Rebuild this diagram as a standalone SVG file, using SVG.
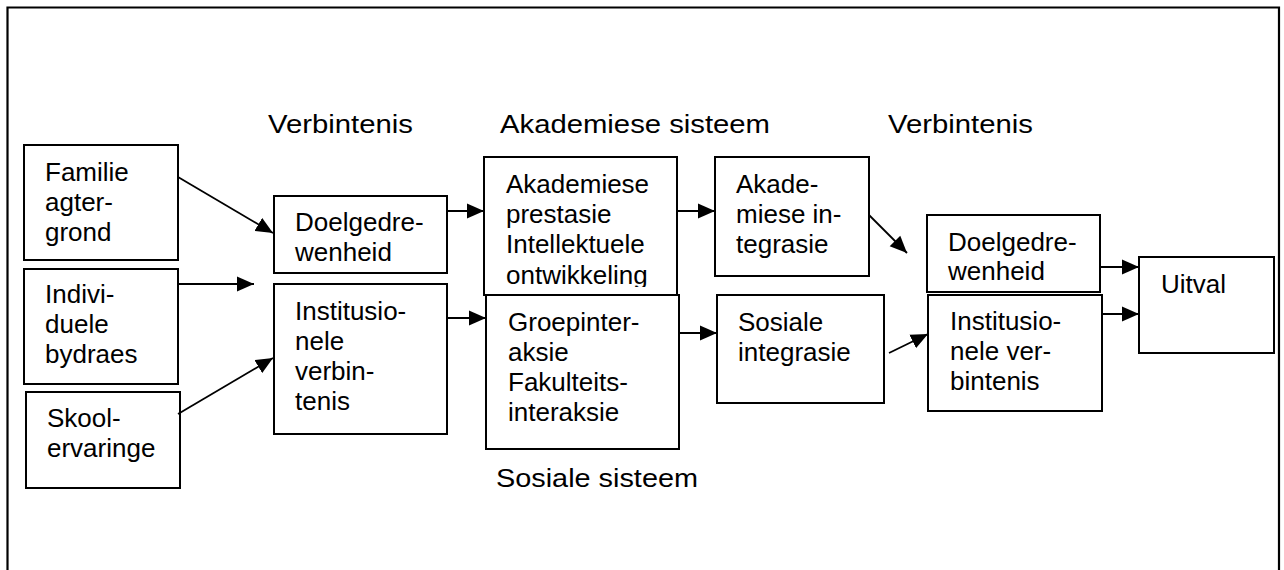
<svg xmlns="http://www.w3.org/2000/svg" width="1284" height="570" viewBox="0 0 1284 570">
  <style>
    .box { fill: #ffffff; stroke: #000000; stroke-width: 2; }
    .lbl { font-family: "Liberation Sans", Arial, sans-serif; font-size: 26px; fill: #000000; }
    .hdr { font-family: "Liberation Sans", Arial, sans-serif; font-size: 26px; fill: #000000; }
    .edge { stroke: #000000; stroke-width: 1.8; fill: none; marker-end: url(#arrow); }
  </style>
  <defs>
    <marker id="arrow" markerUnits="userSpaceOnUse" markerWidth="18" markerHeight="16" refX="17" refY="8" orient="auto">
      <path d="M0,0.5 L17,8 L0,15.5 Z" fill="#000000"/>
    </marker>
    <clipPath id="clipAkad">
      <rect x="484" y="157" width="193" height="130"/>
    </clipPath>
  </defs>

  <rect x="0" y="0" width="1284" height="570" fill="#ffffff"/>

  <!-- outer frame (open at the bottom) -->
  <path d="M7.5,570 L7.5,7.5 L1279,7.5 L1279,570" fill="none" stroke="#000000" stroke-width="2.2"/>

  <!-- column headings -->
  <g id="headings">
    <text class="hdr" x="268" y="133" textLength="145" lengthAdjust="spacingAndGlyphs">Verbintenis</text>
    <text class="hdr" x="500" y="133" textLength="270" lengthAdjust="spacingAndGlyphs">Akademiese sisteem</text>
    <text class="hdr" x="888" y="133" textLength="145" lengthAdjust="spacingAndGlyphs">Verbintenis</text>
    <text class="hdr" x="496" y="487" textLength="202" lengthAdjust="spacingAndGlyphs">Sosiale sisteem</text>
  </g>

  <g id="familie">
    <rect class="box" x="24" y="145" width="154" height="115"/>
    <text class="lbl" x="45" y="181">Familie</text>
    <text class="lbl" x="45" y="211">agter-</text>
    <text class="lbl" x="45" y="241">grond</text>
  </g>

  <g id="individuele">
    <rect class="box" x="24" y="269" width="154" height="115"/>
    <text class="lbl" x="45" y="303">Indivi-</text>
    <text class="lbl" x="45" y="333">duele</text>
    <text class="lbl" x="45" y="363">bydraes</text>
  </g>

  <g id="skool">
    <rect class="box" x="26" y="392" width="154" height="96"/>
    <text class="lbl" x="47" y="427">Skool-</text>
    <text class="lbl" x="47" y="457">ervaringe</text>
  </g>

  <g id="doelgerigtheid1">
    <rect class="box" x="274" y="196" width="173" height="77"/>
    <text class="lbl" x="295" y="231">Doelgedre-</text>
    <text class="lbl" x="295" y="261">wenheid</text>
  </g>

  <g id="institusioneel1">
    <rect class="box" x="274" y="284" width="173" height="150"/>
    <text class="lbl" x="295" y="320">Institusio-</text>
    <text class="lbl" x="295" y="350">nele</text>
    <text class="lbl" x="295" y="380">verbin-</text>
    <text class="lbl" x="295" y="410">tenis</text>
  </g>

  <g id="akademies">
    <rect class="box" x="484" y="157" width="193" height="138"/>
    <g clip-path="url(#clipAkad)">
      <text class="lbl" x="506" y="193">Akademiese</text>
      <text class="lbl" x="506" y="223">prestasie</text>
      <text class="lbl" x="506" y="253">Intellektuele</text>
      <text class="lbl" x="506" y="284">ontwikkeling</text>
    </g>
  </g>

  <g id="sosiaal">
    <rect class="box" x="486" y="295" width="193" height="154"/>
    <text class="lbl" x="508" y="331">Groepinter-</text>
    <text class="lbl" x="508" y="361">aksie</text>
    <text class="lbl" x="508" y="391">Fakulteits-</text>
    <text class="lbl" x="508" y="421">interaksie</text>
  </g>

  <g id="akad-integrasie">
    <rect class="box" x="715" y="157" width="154" height="119"/>
    <text class="lbl" x="736" y="193">Akade-</text>
    <text class="lbl" x="736" y="223">miese in-</text>
    <text class="lbl" x="736" y="253">tegrasie</text>
  </g>

  <g id="sos-integrasie">
    <rect class="box" x="717" y="295" width="167" height="108"/>
    <text class="lbl" x="738" y="331">Sosiale</text>
    <text class="lbl" x="738" y="361">integrasie</text>
  </g>

  <g id="doelgerigtheid2">
    <rect class="box" x="927" y="215" width="173" height="77"/>
    <text class="lbl" x="948" y="251">Doelgedre-</text>
    <text class="lbl" x="948" y="280">wenheid</text>
  </g>

  <g id="institusioneel2">
    <rect class="box" x="928" y="295" width="174" height="116"/>
    <text class="lbl" x="950" y="330">Institusio-</text>
    <text class="lbl" x="950" y="360">nele ver-</text>
    <text class="lbl" x="950" y="390">bintenis</text>
  </g>

  <g id="uitval">
    <rect class="box" x="1139" y="257" width="135" height="96"/>
    <text class="lbl" x="1161" y="293">Uitval</text>
  </g>

  <g id="connectors">
    <line class="edge" x1="178" y1="177" x2="273" y2="233"/>
    <line class="edge" x1="178" y1="284" x2="254" y2="284"/>
    <line class="edge" x1="178" y1="414" x2="273" y2="358"/>
    <line class="edge" x1="447" y1="211" x2="484" y2="211"/>
    <line class="edge" x1="447" y1="318" x2="486" y2="318"/>
    <line class="edge" x1="677" y1="211" x2="715" y2="211"/>
    <line class="edge" x1="679" y1="333" x2="717" y2="333"/>
    <line class="edge" x1="869" y1="215" x2="907" y2="253"/>
    <line class="edge" x1="889" y1="353" x2="928" y2="334"/>
    <line class="edge" x1="1100" y1="267" x2="1139" y2="267"/>
    <line class="edge" x1="1102" y1="314" x2="1139" y2="314"/>
  </g>
</svg>
